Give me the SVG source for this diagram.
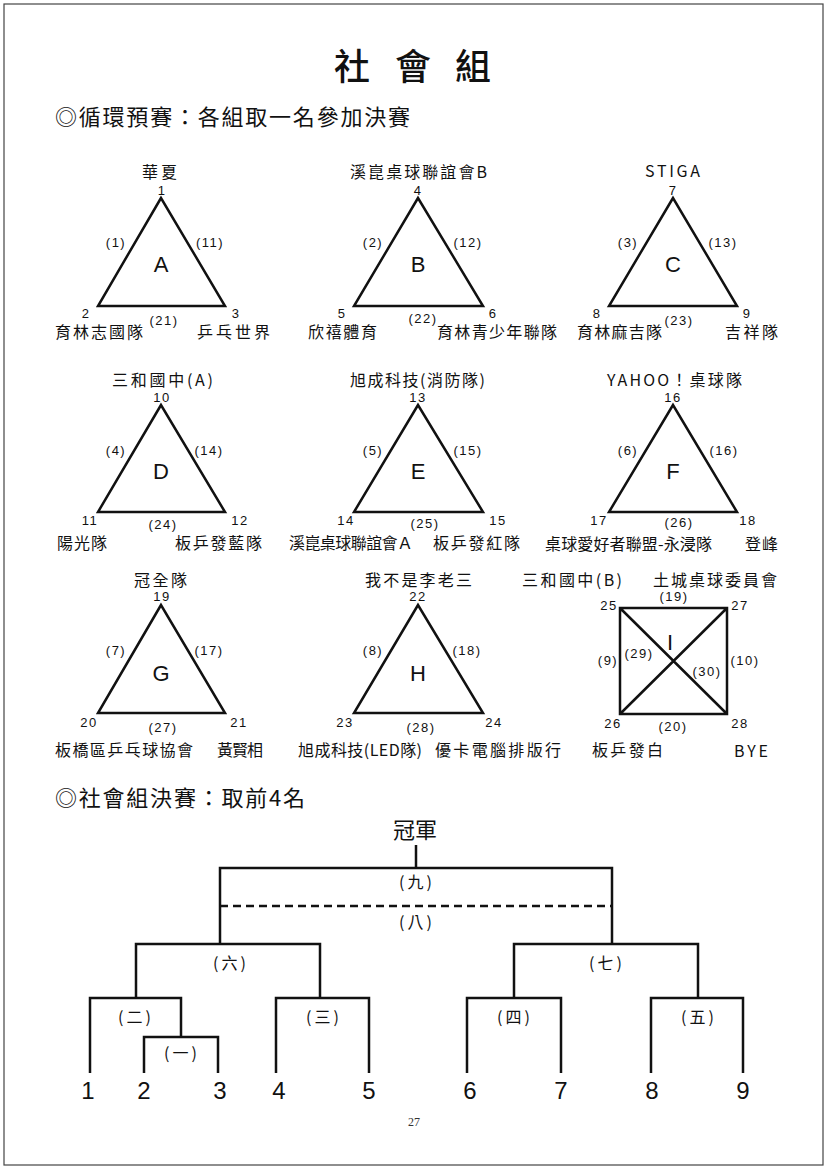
<svg xmlns="http://www.w3.org/2000/svg" width="827" height="1169" viewBox="0 0 827 1169">
<style>
.ln{fill:none;stroke:#111;stroke-width:2.5;stroke-linejoin:miter}
.cj{font-family:"Noto Sans CJK TC","Noto Sans CJK SC",sans-serif;fill:#111}
.nm{font-size:16px}
.num{font-family:"Liberation Sans",Arial,sans-serif;font-size:13px;letter-spacing:1.5px;fill:#111;text-anchor:middle}
.let{font-family:"Liberation Sans",Arial,sans-serif;font-size:22px;fill:#111;text-anchor:middle}
.bn{font-family:"Liberation Sans",Arial,sans-serif;font-size:24px;fill:#111;text-anchor:middle}
.bl{font-family:"Noto Sans CJK TC","Noto Sans CJK SC",sans-serif;font-size:16px;letter-spacing:3px;fill:#111;text-anchor:middle}
</style>
<rect x="4" y="4" width="819" height="1161" fill="#fff" stroke="#444" stroke-width="1.2"/>

<g id="title">
<text class="cj" x="334 395 455" y="80" font-size="36" font-weight="500">社會組</text>
<text class="cj" x="55" y="125" font-size="22" textLength="355" lengthAdjust="spacing">◎循環預賽：各組取一名參加決賽</text>
<text class="cj" x="55" y="806" font-size="22" textLength="250" lengthAdjust="spacing">◎社會組決賽：取前4名</text>
</g>

<g id="groupA">
<path class="ln" d="M161 198 L98 306 L225 306 Z"/>
<text class="cj nm" x="142" y="178" textLength="35" lengthAdjust="spacing">華夏</text>
<text class="num" x="162" y="195">1</text>
<text class="num" x="116" y="247">(1)</text>
<text class="num" x="210" y="247">(11)</text>
<text class="let" x="161" y="272">A</text>
<text class="num" x="86" y="318">2</text>
<text class="num" x="236" y="318">3</text>
<text class="num" x="164" y="325">(21)</text>
<text class="cj nm" x="55" y="338" textLength="88" lengthAdjust="spacing">育林志國隊</text>
<text class="cj nm" x="197" y="338" textLength="73" lengthAdjust="spacing">乒乓世界</text>
</g>

<g id="groupB">
<path class="ln" d="M418 198 L354 306 L483 306 Z"/>
<text class="cj nm" x="350" y="178" textLength="137" lengthAdjust="spacing">溪崑桌球聯誼會B</text>
<text class="num" x="418" y="195">4</text>
<text class="num" x="373" y="247">(2)</text>
<text class="num" x="468" y="247">(12)</text>
<text class="let" x="418" y="272">B</text>
<text class="num" x="342" y="318">5</text>
<text class="num" x="493" y="318">6</text>
<text class="num" x="423" y="323">(22)</text>
<text class="cj nm" x="308" y="338" textLength="69" lengthAdjust="spacing">欣禧體育</text>
<text class="cj nm" x="437" y="338" textLength="120" lengthAdjust="spacing">育林青少年聯隊</text>
</g>

<g id="groupC">
<path class="ln" d="M673 198 L609 306 L737 306 Z"/>
<text class="cj nm" x="645" y="177" textLength="55" lengthAdjust="spacing">STIGA</text>
<text class="num" x="673" y="195">7</text>
<text class="num" x="628" y="247">(3)</text>
<text class="num" x="723" y="247">(13)</text>
<text class="let" x="673" y="272">C</text>
<text class="num" x="597" y="318">8</text>
<text class="num" x="747" y="318">9</text>
<text class="num" x="679" y="325">(23)</text>
<text class="cj nm" x="577" y="338" textLength="85" lengthAdjust="spacing">育林麻吉隊</text>
<text class="cj nm" x="725" y="338" textLength="53" lengthAdjust="spacing">吉祥隊</text>
</g>

<g id="groupD">
<path class="ln" d="M161 405 L98 512 L225 512 Z"/>
<text class="cj nm" x="112" y="386" textLength="101" lengthAdjust="spacing">三和國中(A)</text>
<text class="num" x="162" y="402">10</text>
<text class="num" x="116" y="455">(4)</text>
<text class="num" x="209" y="455">(14)</text>
<text class="let" x="161" y="479">D</text>
<text class="num" x="90" y="525">11</text>
<text class="num" x="240" y="525">12</text>
<text class="num" x="163" y="529">(24)</text>
<text class="cj nm" x="57" y="549" textLength="50" lengthAdjust="spacing">陽光隊</text>
<text class="cj nm" x="175" y="549" textLength="87" lengthAdjust="spacing">板乒發藍隊</text>
</g>

<g id="groupE">
<path class="ln" d="M418 405 L354 512 L483 512 Z"/>
<text class="cj nm" x="350" y="386" textLength="135" lengthAdjust="spacing">旭成科技(消防隊)</text>
<text class="num" x="418" y="402">13</text>
<text class="num" x="373" y="455">(5)</text>
<text class="num" x="468" y="455">(15)</text>
<text class="let" x="418" y="479">E</text>
<text class="num" x="346" y="525">14</text>
<text class="num" x="498" y="525">15</text>
<text class="num" x="425" y="528">(25)</text>
<text class="cj nm" x="289" y="549" textLength="124" lengthAdjust="spacing">溪崑桌球聯誼會Ａ</text>
<text class="cj nm" x="433" y="549" textLength="87" lengthAdjust="spacing">板乒發紅隊</text>
</g>

<g id="groupF">
<path class="ln" d="M673 405 L609 512 L737 512 Z"/>
<text class="cj nm" x="607" y="386" textLength="135" lengthAdjust="spacing">YAHOO！桌球隊</text>
<text class="num" x="673" y="402">16</text>
<text class="num" x="628" y="455">(6)</text>
<text class="num" x="724" y="455">(16)</text>
<text class="let" x="673" y="479">F</text>
<text class="num" x="599" y="525">17</text>
<text class="num" x="748" y="525">18</text>
<text class="num" x="679" y="527">(26)</text>
<text class="cj nm" x="545" y="550" textLength="167" lengthAdjust="spacing">桌球愛好者聯盟-永浸隊</text>
<text class="cj nm" x="745" y="550" textLength="33" lengthAdjust="spacing">登峰</text>
</g>

<g id="groupG">
<path class="ln" d="M161 605 L98 713 L225 713 Z"/>
<text class="cj nm" x="134" y="586" textLength="53" lengthAdjust="spacing">冠全隊</text>
<text class="num" x="162" y="601">19</text>
<text class="num" x="116" y="655">(7)</text>
<text class="num" x="209" y="655">(17)</text>
<text class="let" x="161" y="681">G</text>
<text class="num" x="89" y="727">20</text>
<text class="num" x="239" y="727">21</text>
<text class="num" x="163" y="732">(27)</text>
<text class="cj nm" x="55" y="756" textLength="138" lengthAdjust="spacing">板橋區乒乓球協會</text>
<text class="cj nm" x="217" y="756" textLength="46" lengthAdjust="spacing">黃賢相</text>
</g>

<g id="groupH">
<path class="ln" d="M418 605 L354 713 L483 713 Z"/>
<text class="cj nm" x="365" y="586" textLength="107" lengthAdjust="spacing">我不是李老三</text>
<text class="num" x="418" y="601">22</text>
<text class="num" x="373" y="655">(8)</text>
<text class="num" x="467" y="655">(18)</text>
<text class="let" x="418" y="681">H</text>
<text class="num" x="345" y="727">23</text>
<text class="num" x="494" y="727">24</text>
<text class="num" x="421" y="732">(28)</text>
<text class="cj nm" x="298" y="756" textLength="124" lengthAdjust="spacing">旭成科技(LED隊)</text>
<text class="cj nm" x="435" y="756" textLength="126" lengthAdjust="spacing">優卡電腦排版行</text>
</g>

<g id="groupI">
<path class="ln" d="M620 608 H727 V714 H620 Z M620 608 L727 714 M727 608 L620 714"/>
<text class="cj nm" x="522" y="586" textLength="100" lengthAdjust="spacing">三和國中(B)</text>
<text class="cj nm" x="653" y="586" textLength="124" lengthAdjust="spacing">土城桌球委員會</text>
<text class="num" x="674" y="601">(19)</text>
<text class="num" x="609" y="610">25</text>
<text class="num" x="740" y="610">27</text>
<text class="num" x="608" y="665">(9)</text>
<text class="num" x="639" y="658">(29)</text>
<text class="let" x="670" y="650">I</text>
<text class="num" x="707" y="676">(30)</text>
<text class="num" x="745" y="665">(10)</text>
<text class="num" x="613" y="728">26</text>
<text class="num" x="740" y="728">28</text>
<text class="num" x="673" y="731">(20)</text>
<text class="cj nm" x="592" y="756" textLength="71" lengthAdjust="spacing">板乒發白</text>
<text class="cj nm" x="734" y="757" textLength="34" lengthAdjust="spacing">BYE</text>
</g>

<g id="connectors">
<path class="ln" d="M416 845 V868"/>
<path class="ln" d="M220 944 V868 H612 V944"/>
<path class="ln" d="M220 906 H612" stroke-dasharray="8 5" stroke-width="2"/>
<path class="ln" d="M136 998 V944 H320 V998"/>
<path class="ln" d="M90 1073 V998 H181 V1037"/>
<path class="ln" d="M144 1073 V1037 H218 V1073"/>
<path class="ln" d="M276 1073 V998 H369 V1073"/>
<path class="ln" d="M514 998 V944 H698 V998"/>
<path class="ln" d="M467 1073 V998 H561 V1073"/>
<path class="ln" d="M651 1073 V998 H743 V1073"/>
</g>

<g id="bracket-labels">
<text class="cj" x="393" y="838" font-size="22" textLength="44" lengthAdjust="spacing">冠軍</text>
<text class="bl" x="417" y="888">(九)</text>
<text class="bl" x="417" y="928">(八)</text>
<text class="bl" x="231" y="969">(六)</text>
<text class="bl" x="607" y="969">(七)</text>
<text class="bl" x="136" y="1023">(二)</text>
<text class="bl" x="182" y="1059">(一)</text>
<text class="bl" x="324" y="1023">(三)</text>
<text class="bl" x="515" y="1023">(四)</text>
<text class="bl" x="699" y="1023">(五)</text>
</g>

<g id="seeds">
<text class="bn" x="88" y="1099">1</text>
<text class="bn" x="144" y="1099">2</text>
<text class="bn" x="220" y="1099">3</text>
<text class="bn" x="279" y="1099">4</text>
<text class="bn" x="369" y="1099">5</text>
<text class="bn" x="470" y="1099">6</text>
<text class="bn" x="561" y="1099">7</text>
<text class="bn" x="652" y="1099">8</text>
<text class="bn" x="743" y="1099">9</text>
</g>

<text x="414" y="1126" font-family="Liberation Serif, serif" font-size="12" fill="#333" text-anchor="middle">27</text>
</svg>
